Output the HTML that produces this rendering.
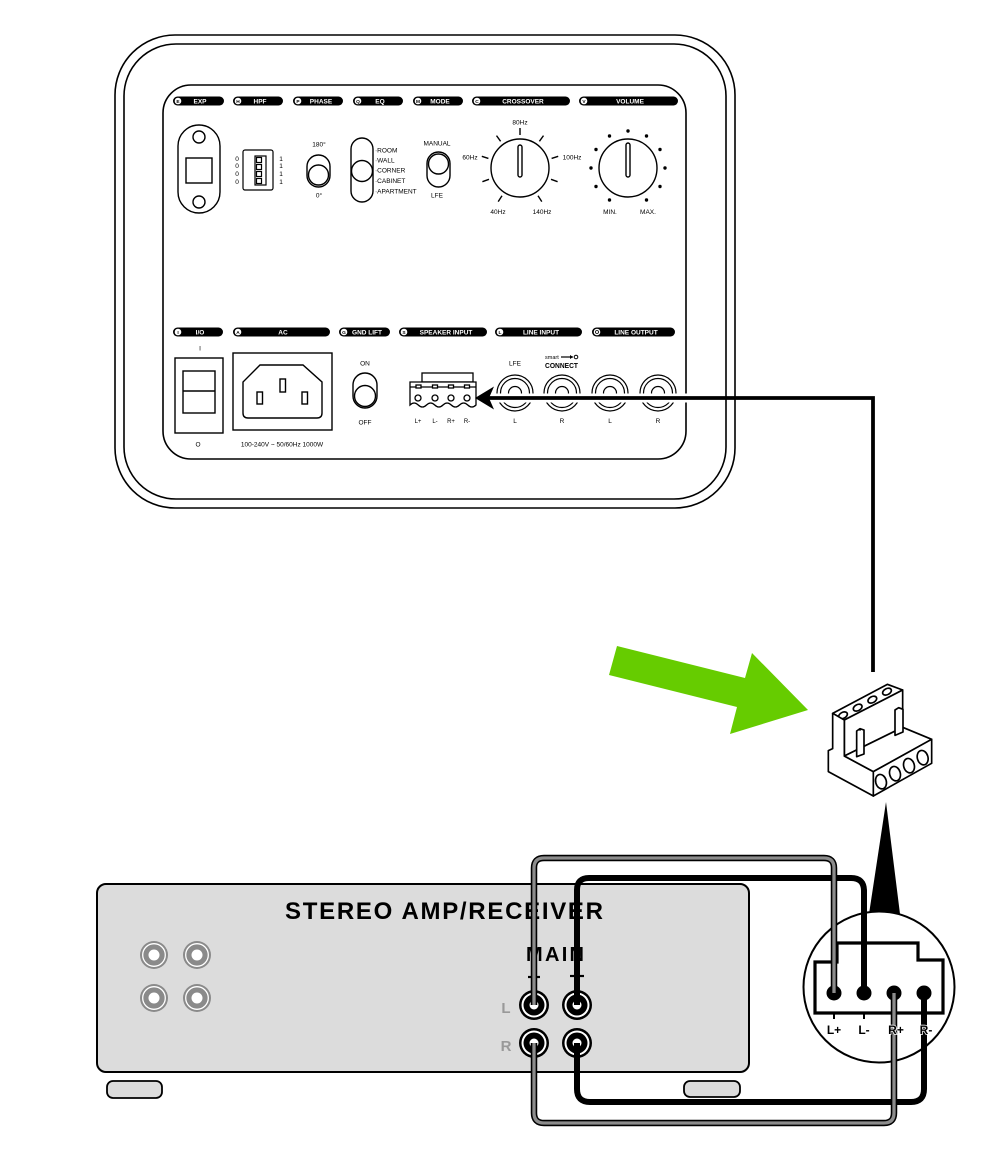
<!DOCTYPE html>
<html><head><meta charset="utf-8">
<style>
html,body{margin:0;padding:0;background:#fff;}
svg{display:block;}
text{font-family:"Liberation Sans",sans-serif;}
</style></head>
<body>
<svg width="1000" height="1166" viewBox="0 0 1000 1166" xmlns="http://www.w3.org/2000/svg">
<rect x="0" y="0" width="1000" height="1166" fill="#fff"/>

<!-- ===== Subwoofer back panel ===== -->
<g fill="none" stroke="#000" stroke-width="1.6">
  <rect x="115" y="35" width="620" height="473" rx="60"/>
  <rect x="124" y="44" width="602" height="455" rx="52"/>
  <rect x="163" y="85" width="523" height="374" rx="28"/>
</g>

<!-- top pills -->
<g font-size="6.5" font-weight="bold" text-anchor="middle">
  <g>
    <rect x="173" y="96.5" width="51" height="9" rx="4.5"/><circle cx="178" cy="101" r="3.3" fill="#fff"/>
    <text x="178" y="102.8" font-size="4.8" fill="#000">E</text><text x="200" y="103.4" fill="#fff">EXP</text>
  </g>
  <g>
    <rect x="233" y="96.5" width="50" height="9" rx="4.5"/><circle cx="238" cy="101" r="3.3" fill="#fff"/>
    <text x="238" y="102.8" font-size="4.8">H</text><text x="260" y="103.4" fill="#fff">HPF</text>
  </g>
  <g>
    <rect x="293" y="96.5" width="50" height="9" rx="4.5"/><circle cx="298" cy="101" r="3.3" fill="#fff"/>
    <text x="298" y="102.8" font-size="4.8">P</text><text x="321" y="103.4" fill="#fff">PHASE</text>
  </g>
  <g>
    <rect x="353" y="96.5" width="50" height="9" rx="4.5"/><circle cx="358" cy="101" r="3.3" fill="#fff"/>
    <text x="358" y="102.8" font-size="4.8">Q</text><text x="380" y="103.4" fill="#fff">EQ</text>
  </g>
  <g>
    <rect x="413" y="96.5" width="50" height="9" rx="4.5"/><circle cx="418" cy="101" r="3.3" fill="#fff"/>
    <text x="418" y="102.8" font-size="4.8">M</text><text x="440" y="103.4" fill="#fff">MODE</text>
  </g>
  <g>
    <rect x="472" y="96.5" width="98" height="9" rx="4.5"/><circle cx="477" cy="101" r="3.3" fill="#fff"/>
    <text x="477" y="102.8" font-size="4.8">C</text><text x="523" y="103.4" fill="#fff">CROSSOVER</text>
  </g>
  <g>
    <rect x="579" y="96.5" width="99" height="9" rx="4.5"/><circle cx="584" cy="101" r="3.3" fill="#fff"/>
    <text x="584" y="102.8" font-size="4.8">V</text><text x="630" y="103.4" fill="#fff">VOLUME</text>
  </g>
</g>

<!-- bottom pills -->
<g font-size="6.5" font-weight="bold" text-anchor="middle">
  <g>
    <rect x="173" y="327.5" width="50" height="9" rx="4.5"/><circle cx="178" cy="332" r="3.3" fill="#fff"/>
    <text x="178" y="333.8" font-size="4.8">I</text><text x="200" y="334.4" fill="#fff">I/O</text>
  </g>
  <g>
    <rect x="233" y="327.5" width="97" height="9" rx="4.5"/><circle cx="238" cy="332" r="3.3" fill="#fff"/>
    <text x="238" y="333.8" font-size="4.8">A</text><text x="283" y="334.4" fill="#fff">AC</text>
  </g>
  <g>
    <rect x="339" y="327.5" width="51" height="9" rx="4.5"/><circle cx="344" cy="332" r="3.3" fill="#fff"/>
    <text x="344" y="333.8" font-size="4.8">G</text><text x="367" y="334.4" fill="#fff">GND LIFT</text>
  </g>
  <g>
    <rect x="399" y="327.5" width="88" height="9" rx="4.5"/><circle cx="404" cy="332" r="3.3" fill="#fff"/>
    <text x="404" y="333.8" font-size="4.8">S</text><text x="446" y="334.4" fill="#fff">SPEAKER INPUT</text>
  </g>
  <g>
    <rect x="495" y="327.5" width="87" height="9" rx="4.5"/><circle cx="500" cy="332" r="3.3" fill="#fff"/>
    <text x="500" y="333.8" font-size="4.8">L</text><text x="541" y="334.4" fill="#fff">LINE INPUT</text>
  </g>
  <g>
    <rect x="592" y="327.5" width="83" height="9" rx="4.5"/><circle cx="597" cy="332" r="3.3" fill="#fff"/>
    <circle cx="597" cy="332" r="1.5" fill="none" stroke="#000" stroke-width="0.8"/><text x="636" y="334.4" fill="#fff">LINE OUTPUT</text>
  </g>
</g>

<!-- EXP -->
<g fill="none" stroke="#000" stroke-width="1.4">
  <rect x="178" y="125" width="42" height="88" rx="21"/>
  <rect x="186" y="158" width="26" height="25"/>
  <circle cx="199" cy="137" r="6"/>
  <circle cx="199" cy="202" r="6"/>
</g>

<!-- HPF -->
<g font-size="6.5" text-anchor="middle">
  <text x="237" y="161">0</text><text x="237" y="168">0</text><text x="237" y="176">0</text><text x="237" y="184">0</text>
  <text x="281" y="161">1</text><text x="281" y="168">1</text><text x="281" y="176">1</text><text x="281" y="184">1</text>
</g>
<g fill="none" stroke="#000" stroke-width="1.2">
  <rect x="243" y="150" width="30" height="40" rx="2"/>
  <rect x="255" y="156" width="11" height="29"/>
  <rect x="256.5" y="157.5" width="5" height="5"/>
  <rect x="256.5" y="164.5" width="5" height="5"/>
  <rect x="256.5" y="171.5" width="5" height="5"/>
  <rect x="256.5" y="178.5" width="5" height="5"/>
</g>

<!-- PHASE -->
<g font-size="6.5" text-anchor="middle">
  <text x="319" y="146.5">180°</text>
  <text x="319" y="197.5">0°</text>
  <text x="437" y="145.5">MANUAL</text>
  <text x="437" y="197.5">LFE</text>
</g>
<g fill="none" stroke="#000" stroke-width="1.4">
  <rect x="307" y="155" width="23" height="32" rx="11.5"/>
  <circle cx="318.5" cy="175" r="10"/>
  <rect x="351" y="138" width="22" height="64" rx="11"/>
  <circle cx="362" cy="171" r="10.5"/>
  <rect x="427" y="152" width="23" height="35" rx="11.5"/>
  <circle cx="438.5" cy="164" r="10"/>
</g>
<g font-size="6.5">
  <text x="375" y="152.5">·ROOM</text>
  <text x="375" y="162.5">·WALL</text>
  <text x="375" y="172.5">·CORNER</text>
  <text x="375" y="183">·CABINET</text>
  <text x="375" y="193.5">·APARTMENT</text>
</g>

<!-- CROSSOVER knob -->
<g fill="none" stroke="#000" stroke-width="1.4">
  <circle cx="520" cy="168" r="29"/>
  <rect x="518" y="145" width="4" height="32" rx="2"/>
  <line x1="520" y1="135" x2="520" y2="128"/>
  <line x1="539.4" y1="141.3" x2="543.5" y2="135.6"/>
  <line x1="500.6" y1="141.3" x2="496.5" y2="135.6"/>
  <line x1="551.6" y1="158.4" x2="558.2" y2="156.3"/>
  <line x1="488.4" y1="158.4" x2="481.8" y2="156.3"/>
  <line x1="551" y1="179.3" x2="557.6" y2="181.7"/>
  <line x1="489" y1="179.3" x2="482.4" y2="181.7"/>
  <line x1="538" y1="195.7" x2="541.8" y2="201.6"/>
  <line x1="502" y1="195.7" x2="498.2" y2="201.6"/>
</g>
<g font-size="6.5" text-anchor="middle">
  <text x="520" y="124.5">80Hz</text>
  <text x="470" y="159.5">60Hz</text>
  <text x="572" y="159.5">100Hz</text>
  <text x="498" y="214">40Hz</text>
  <text x="542" y="214">140Hz</text>
  <text x="610" y="214">MIN.</text>
  <text x="648" y="214">MAX.</text>
</g>

<!-- VOLUME knob -->
<g fill="none" stroke="#000" stroke-width="1.4">
  <circle cx="628" cy="168" r="29"/>
  <rect x="626" y="143" width="4" height="34" rx="2"/>
</g>
<g fill="#000">
  <circle cx="628" cy="131" r="1.7"/>
  <circle cx="646.5" cy="136" r="1.7"/><circle cx="609.5" cy="136" r="1.7"/>
  <circle cx="660" cy="149.5" r="1.7"/><circle cx="596" cy="149.5" r="1.7"/>
  <circle cx="665" cy="168" r="1.7"/><circle cx="591" cy="168" r="1.7"/>
  <circle cx="660" cy="186.5" r="1.7"/><circle cx="596" cy="186.5" r="1.7"/>
  <circle cx="646.5" cy="200" r="1.7"/><circle cx="609.5" cy="200" r="1.7"/>
</g>

<!-- I/O -->
<g fill="none" stroke="#000" stroke-width="1.4">
  <rect x="175" y="358" width="48" height="75"/>
  <rect x="183" y="371" width="32" height="42"/>
  <line x1="183" y1="391" x2="215" y2="391"/>
</g>
<g font-size="6.5" text-anchor="middle">
  <text x="200" y="350.5">I</text>
  <text x="198" y="446.5">O</text>
  <text x="282" y="446.5">100-240V ~ 50/60Hz 1000W</text>
  <text x="365" y="365.5">ON</text>
  <text x="365" y="424.5">OFF</text>
</g>

<!-- AC -->
<g fill="none" stroke="#000" stroke-width="1.4">
  <rect x="233" y="353" width="99" height="77"/>
  <path d="M260,365 H303 L322,382 V413 Q322,418 317,418 H248 Q243,418 243,413 V382 Z"/>
  <rect x="280" y="379" width="5.5" height="13"/>
  <rect x="257" y="392" width="5.5" height="12"/>
  <rect x="302" y="392" width="5.5" height="12"/>
</g>

<!-- GND LIFT toggle -->
<g fill="none" stroke="#000" stroke-width="1.4">
  <rect x="353" y="373" width="24" height="35" rx="12"/>
  <circle cx="365" cy="396" r="10.5"/>
</g>

<!-- speaker input connector -->
<g fill="#fff" stroke="#000" stroke-width="1.3">
  <rect x="422" y="373" width="51" height="9"/>
  <path d="M410,382 H476 V405 Q471.9,409 467.75,405 T459.5,405 T451.25,405 T443,405 T434.75,405 T426.5,405 T418.25,405 T410,405 Z"/>
  <line x1="410" y1="387" x2="476" y2="387"/>
  <rect x="416" y="385" width="5" height="3"/>
  <rect x="432.5" y="385" width="5" height="3"/>
  <rect x="448.5" y="385" width="5" height="3"/>
  <rect x="464.5" y="385" width="5" height="3"/>
  <circle cx="418" cy="398" r="3"/>
  <circle cx="435" cy="398" r="3"/>
  <circle cx="451" cy="398" r="3"/>
  <circle cx="467" cy="398" r="3"/>
</g>
<g font-size="6" text-anchor="middle">
  <text x="418" y="423">L+</text>
  <text x="435" y="423">L-</text>
  <text x="451" y="423">R+</text>
  <text x="467" y="423">R-</text>
</g>

<!-- line input/output jacks -->
<g fill="none" stroke="#000" stroke-width="1.2">
  <circle cx="515" cy="393" r="18"/><circle cx="515" cy="393" r="14.5"/><circle cx="515" cy="393" r="6.5"/>
  <circle cx="562" cy="393" r="18"/><circle cx="562" cy="393" r="14.5"/><circle cx="562" cy="393" r="6.5"/>
  <circle cx="610" cy="393" r="18"/><circle cx="610" cy="393" r="14.5"/><circle cx="610" cy="393" r="6.5"/>
  <circle cx="658" cy="393" r="18"/><circle cx="658" cy="393" r="14.5"/><circle cx="658" cy="393" r="6.5"/>
</g>
<g font-size="6.5" text-anchor="middle">
  <text x="515" y="365.5">LFE</text>
  <text x="515" y="423">L</text>
  <text x="562" y="423">R</text>
  <text x="610" y="423">L</text>
  <text x="658" y="423">R</text>
</g>
<!-- smart connect logo -->
<g>
  <text x="545" y="359" font-size="5.5">smart</text>
  <line x1="561" y1="357" x2="573" y2="357" stroke="#000" stroke-width="1.2"/>
  <path d="M570,355 L573,357 L570,359 Z" fill="#000"/>
  <circle cx="576" cy="357" r="1.8" fill="none" stroke="#000" stroke-width="1"/>
  <text x="545" y="368" font-size="7.5" font-weight="bold" textLength="33" lengthAdjust="spacingAndGlyphs">CONNECT</text>
</g>

<!-- signal arrow line -->
<line x1="480" y1="398" x2="690" y2="398" stroke="#fff" stroke-width="9"/>
<path d="M873,672 V398 H488" fill="none" stroke="#000" stroke-width="3.8" stroke-linejoin="miter"/>
<path d="M475,398 L494,386.5 L489,398 L494,409.5 Z" fill="#000"/>

<!-- green arrow -->
<polygon points="617,646 745,678 752,653 808,710 730,734 737,707 609,675" fill="#66cc00"/>

<!-- 3D terminal block -->
<g transform="translate(600,630) scale(0.33333)" fill="#fff" stroke="#000" stroke-width="5" stroke-linejoin="round">
  <polygon points="698,250 862,163 908,180 733,270"/>
  <ellipse cx="729" cy="256" rx="14" ry="9" transform="rotate(-28 729 256)"/>
  <ellipse cx="773" cy="233" rx="14" ry="9" transform="rotate(-28 773 233)"/>
  <ellipse cx="817" cy="209" rx="14" ry="9" transform="rotate(-28 817 209)"/>
  <ellipse cx="861" cy="185" rx="14" ry="9" transform="rotate(-28 861 185)"/>
  <polygon points="733,270 908,180 908,292 733,378"/>
  <polygon points="698,250 733,270 733,378 820,425 820,498 685,425 685,362 698,356"/>
  <polygon points="733,378 908,292 995,328 820,425"/>
  <polygon points="770,303 780,296 792,300 792,372 770,380"/>
  <line x1="780" y1="296" x2="780" y2="302"/>
  <polygon points="885,240 896,233 909,238 909,306 885,316"/>
  <polygon points="820,425 995,328 995,400 820,498"/>
  <ellipse cx="843" cy="455" rx="16" ry="22" transform="rotate(-15 843 455)"/>
  <ellipse cx="885" cy="431" rx="16" ry="22" transform="rotate(-15 885 431)"/>
  <ellipse cx="927" cy="407" rx="16" ry="22" transform="rotate(-15 927 407)"/>
  <ellipse cx="968" cy="383" rx="16" ry="22" transform="rotate(-15 968 383)"/>
</g>

<!-- pointer triangle -->
<polygon points="886,802 869,914 900,914" fill="#000"/>

<!-- ===== Amp ===== -->
<rect x="97" y="884" width="652" height="188" rx="9" fill="#dcdcdc" stroke="#000" stroke-width="2"/>
<rect x="107" y="1081" width="55" height="17" rx="6" fill="#dcdcdc" stroke="#000" stroke-width="1.8"/>
<rect x="684" y="1081" width="56" height="16" rx="6" fill="#dcdcdc" stroke="#000" stroke-width="1.8"/>

<!-- gray jacks left -->
<g>
  <circle cx="154" cy="955" r="14" fill="#8a8a8a"/><circle cx="154" cy="955" r="11.3" fill="none" stroke="#fff" stroke-width="1.3"/><circle cx="154" cy="955" r="5.5" fill="#fff"/>
  <circle cx="197" cy="955" r="14" fill="#8a8a8a"/><circle cx="197" cy="955" r="11.3" fill="none" stroke="#fff" stroke-width="1.3"/><circle cx="197" cy="955" r="5.5" fill="#fff"/>
  <circle cx="154" cy="998" r="14" fill="#8a8a8a"/><circle cx="154" cy="998" r="11.3" fill="none" stroke="#fff" stroke-width="1.3"/><circle cx="154" cy="998" r="5.5" fill="#fff"/>
  <circle cx="197" cy="998" r="14" fill="#8a8a8a"/><circle cx="197" cy="998" r="11.3" fill="none" stroke="#fff" stroke-width="1.3"/><circle cx="197" cy="998" r="5.5" fill="#fff"/>
</g>

<text x="444" y="919" font-size="24" font-weight="bold" text-anchor="middle" textLength="318" lengthAdjust="spacing">STEREO AMP/RECEIVER</text>
<text x="555" y="961" font-size="20" font-weight="bold" text-anchor="middle" textLength="58" lengthAdjust="spacing">MAIN</text>
<g stroke="#000" stroke-width="2.2">
  <line x1="528" y1="977" x2="540" y2="977"/>
  <line x1="534" y1="971" x2="534" y2="983"/>
  <line x1="570" y1="976" x2="584" y2="976"/>
</g>
<text x="506" y="1013" font-size="15" font-weight="bold" fill="#999" text-anchor="middle">L</text>
<text x="506" y="1051" font-size="15" font-weight="bold" fill="#999" text-anchor="middle">R</text>

<!-- amp main jacks -->
<g>
  <circle cx="534" cy="1005" r="15" fill="#000"/><circle cx="534" cy="1005" r="12.5" fill="#fff"/><circle cx="534" cy="1005" r="10.5" fill="#000"/><circle cx="534" cy="1005" r="4.5" fill="#fff"/>
  <circle cx="577" cy="1005" r="15" fill="#000"/><circle cx="577" cy="1005" r="12.5" fill="#fff"/><circle cx="577" cy="1005" r="10.5" fill="#000"/><circle cx="577" cy="1005" r="4.5" fill="#fff"/>
  <circle cx="534" cy="1043" r="15" fill="#000"/><circle cx="534" cy="1043" r="12.5" fill="#fff"/><circle cx="534" cy="1043" r="10.5" fill="#000"/><circle cx="534" cy="1043" r="4.5" fill="#fff"/>
  <circle cx="577" cy="1043" r="15" fill="#000"/><circle cx="577" cy="1043" r="12.5" fill="#fff"/><circle cx="577" cy="1043" r="10.5" fill="#000"/><circle cx="577" cy="1043" r="4.5" fill="#fff"/>
</g>

<!-- ===== Zoom circle ===== -->
<circle cx="879" cy="987" r="75.5" fill="#fff" stroke="#000" stroke-width="2"/>
<path d="M837,943 H918 V960 H943 V1013 H815 V962 H837 Z" fill="none" stroke="#000" stroke-width="3.2"/>
<g stroke="#000" stroke-width="2">
  <line x1="834" y1="1013" x2="834" y2="1019"/>
  <line x1="864" y1="1013" x2="864" y2="1019"/>
  <line x1="894" y1="1013" x2="894" y2="1019"/>
  <line x1="924" y1="1013" x2="924" y2="1019"/>
</g>
<g fill="#000">
  <circle cx="834" cy="993" r="7.5"/>
  <circle cx="864" cy="993" r="7.5"/>
  <circle cx="894" cy="993" r="7.5"/>
  <circle cx="924" cy="993" r="7.5"/>
</g>

<!-- ===== Wires ===== -->
<g fill="none" stroke-linejoin="round">
  <!-- L- black -->
  <path d="M577,1005 V890 Q577,878 589,878 H851 Q864,878 864,891 V993" stroke="#000" stroke-width="6"/>
  <!-- R- black -->
  <path d="M577,1043 V1089 Q577,1102 590,1102 H911 Q924,1102 924,1089 V993" stroke="#000" stroke-width="6"/>
  <!-- L+ gray -->
  <path d="M534,1005 V868 Q534,858 544,858 H824 Q834,858 834,868 V993" stroke="#000" stroke-width="6.5"/>
  <path d="M534,1005 V868 Q534,858 544,858 H824 Q834,858 834,868 V993" stroke="#8c8c8c" stroke-width="3.3"/>
  <!-- R+ gray -->
  <path d="M534,1043 V1113 Q534,1123 544,1123 H884 Q894,1123 894,1113 V993" stroke="#000" stroke-width="6.5"/>
  <path d="M534,1043 V1113 Q534,1123 544,1123 H884 Q894,1123 894,1113 V993" stroke="#8c8c8c" stroke-width="3.3"/>
</g>

<!-- terminal labels -->
<g font-size="12" font-weight="bold" text-anchor="middle" stroke="#fff" stroke-width="1.5" paint-order="stroke" fill="#000">
  <text x="834" y="1034">L+</text>
  <text x="864" y="1034">L-</text>
  <text x="896" y="1034">R+</text>
  <text x="926" y="1034">R-</text>
</g>
</svg>
</body></html>
